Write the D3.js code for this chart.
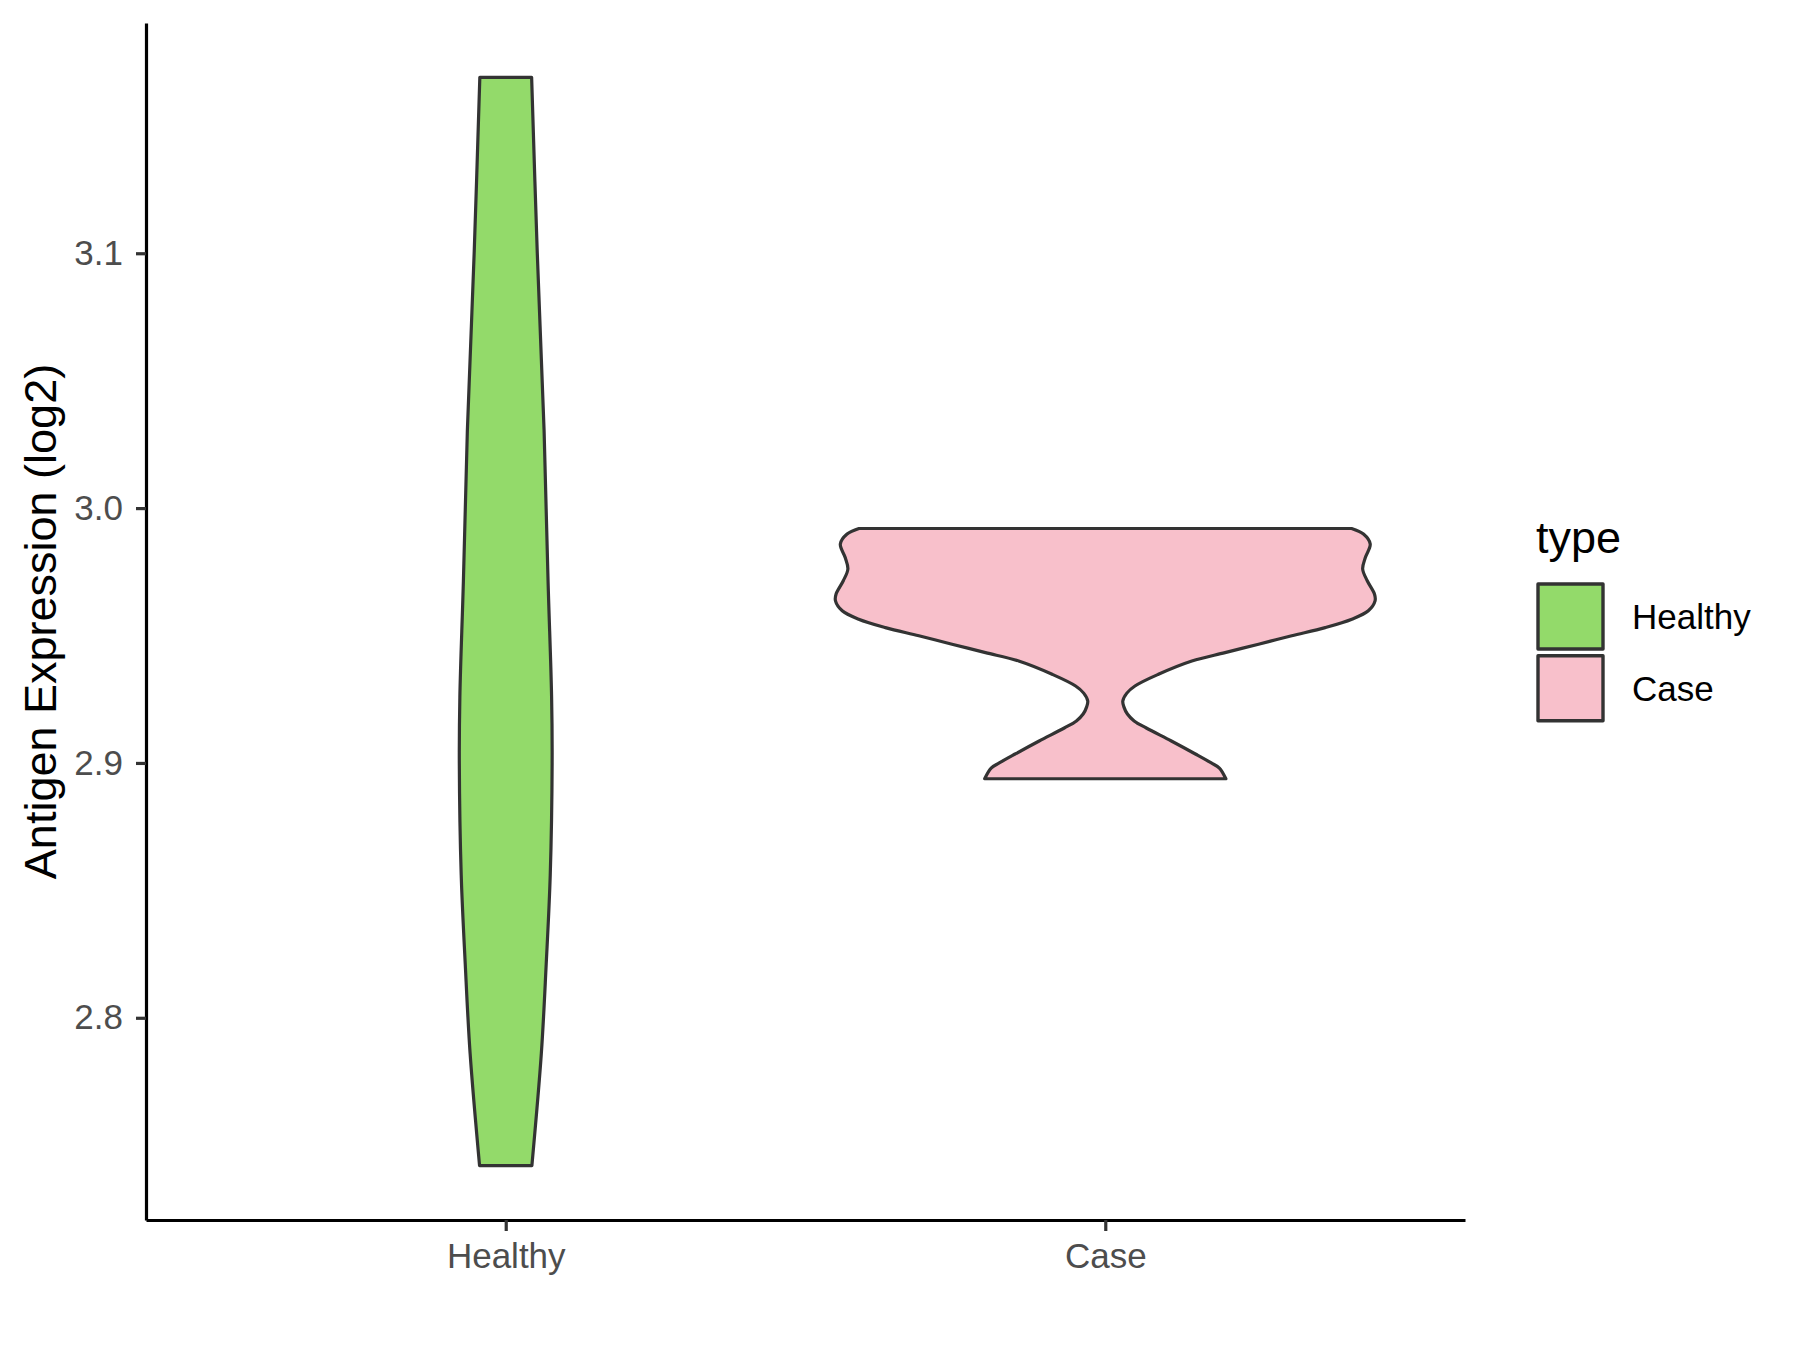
<!DOCTYPE html>
<html>
<head>
<meta charset="utf-8">
<script src="https://cdn.jsdelivr.net/npm/d3@7"></script>
<style>
  body { margin: 0; background: #fff; }
  text { font-family: "Liberation Sans", Arial, sans-serif; }
</style>
</head>
<body>
<div id="chart"></div>
<script>
// categories and colours
var categories = ["Healthy", "Case"];
var fillColors = ["#93DA6A", "#F8C0CB"];
var yTicks = [2.8, 2.9, 3.0, 3.1];

// violin outlines: value, relative density (1 = widest)
var healthyValues  = [3.169, 3.100, 3.031, 2.971, 2.926, 2.900, 2.856, 2.821, 2.786, 2.742];
var healthyDensity = [0.096, 0.117, 0.142, 0.157, 0.170, 0.172, 0.165, 0.150, 0.132, 0.097];

var caseValues  = [2.9920, 2.9898, 2.9859, 2.9806, 2.9761, 2.9715, 2.9662, 2.9636, 2.9597, 2.9564,
                   2.9531, 2.9499, 2.9466, 2.9433, 2.9400, 2.9348, 2.9302, 2.9274, 2.9243, 2.9220,
                   2.9192, 2.9165, 2.9137, 2.9086, 2.9035, 2.9000, 2.8980, 2.8938];
var caseDensity = [0.913, 0.957, 0.982, 0.964, 0.954, 0.971, 0.998, 1.000, 0.975, 0.914,
                   0.815, 0.691, 0.568, 0.444, 0.321, 0.197, 0.110, 0.080, 0.065, 0.069,
                   0.082, 0.107, 0.152, 0.245, 0.334, 0.393, 0.423, 0.447];

var violins = [
  { type: "Healthy", values: healthyValues, density: healthyDensity },
  { type: "Case", values: caseValues, density: caseDensity }
];

// manually set margins
var W = 1800, H = 1350;
var margin = {top: 23, right: 335, bottom: 130, left: 146},
    width = W - margin.left - margin.right,
    height = H - margin.top - margin.bottom;

var svg = d3.select("#chart").append("svg")
    .attr("width", W)
    .attr("height", H);

var g = svg.append("g")
    .attr("transform", "translate(" + margin.left + "," + margin.top + ")");

// y scale, ggplot style 5% expansion
var allVals = healthyValues.concat(caseValues);
var yMin = d3.min(allVals), yMax = d3.max(allVals), pad = (yMax - yMin) * 0.05;
var y = d3.scaleLinear()
    .domain([yMin - pad, yMax + pad])
    .range([height, 0]);

// discrete x scale
var x = d3.scalePoint()
    .domain(categories)
    .range([0, width])
    .padding(0.6);

// half width of a violin
var w = d3.scaleLinear()
    .domain([0, 1])
    .range([0, x.step() * 0.45]);

var color = d3.scaleOrdinal().domain(categories).range(fillColors);

// violins
violins.forEach(function(v) {
  var cx = x(v.type);
  var pts = v.values.map(function(val, i) { return {v: val, d: v.density[i]}; });
  var area = d3.area()
      .y(function(d) { return y(d.v); })
      .x0(function(d) { return cx - w(d.d); })
      .x1(function(d) { return cx + w(d.d); })
      .curve(d3.curveCatmullRom);
  g.append("path")
      .datum(pts)
      .attr("d", area)
      .attr("fill", color(v.type))
      .attr("stroke", "#333333")
      .attr("stroke-width", 3.2)
      .attr("stroke-linejoin", "round");
});

// y axis
var yAxis = g.append("g")
    .call(d3.axisLeft(y).tickValues(yTicks).tickFormat(d3.format(".1f"))
      .tickSize(10).tickSizeOuter(0).tickPadding(13));

// x axis
var xAxis = g.append("g")
    .attr("transform", "translate(0," + height + ")")
    .call(d3.axisBottom(x).tickSize(11).tickSizeOuter(0).tickPadding(12));

[xAxis, yAxis].forEach(function(ax) {
  ax.select(".domain").attr("stroke", "#000").attr("stroke-width", 3.2);
  ax.selectAll(".tick line").attr("stroke", "#333333").attr("stroke-width", 3.2);
  ax.selectAll(".tick text")
      .attr("fill", "#4D4D4D")
      .style("font-size", "35px")
      .style("font-family", "'Liberation Sans', Arial, sans-serif");
});

// y axis title
svg.append("text")
    .attr("transform", "translate(" + 56 + "," + (margin.top + height / 2) + ") rotate(-90)")
    .attr("text-anchor", "middle")
    .style("font-size", "45px")
    .attr("fill", "#000")
    .text("Antigen Expression (log2)");

// legend
var legend = svg.append("g")
    .attr("transform", "translate(1536,553)");

legend.append("text")
    .attr("x", 0)
    .attr("y", 0)
    .style("font-size", "45px")
    .attr("fill", "#000")
    .text("type");

var keySize = 65, keyStep = 71.7;
categories.forEach(function(c, i) {
  var ky = 31 + i * keyStep;
  legend.append("rect")
      .attr("x", 2)
      .attr("y", ky)
      .attr("width", keySize)
      .attr("height", keySize)
      .attr("fill", color(c))
      .attr("stroke", "#333333")
      .attr("stroke-width", 3.4)
      .attr("stroke-linejoin", "round");
  legend.append("text")
      .attr("x", 96)
      .attr("y", ky + keySize / 2)
      .attr("dy", "0.36em")
      .style("font-size", "35px")
      .attr("fill", "#000")
      .text(c);
});
</script>
</body>
</html>
